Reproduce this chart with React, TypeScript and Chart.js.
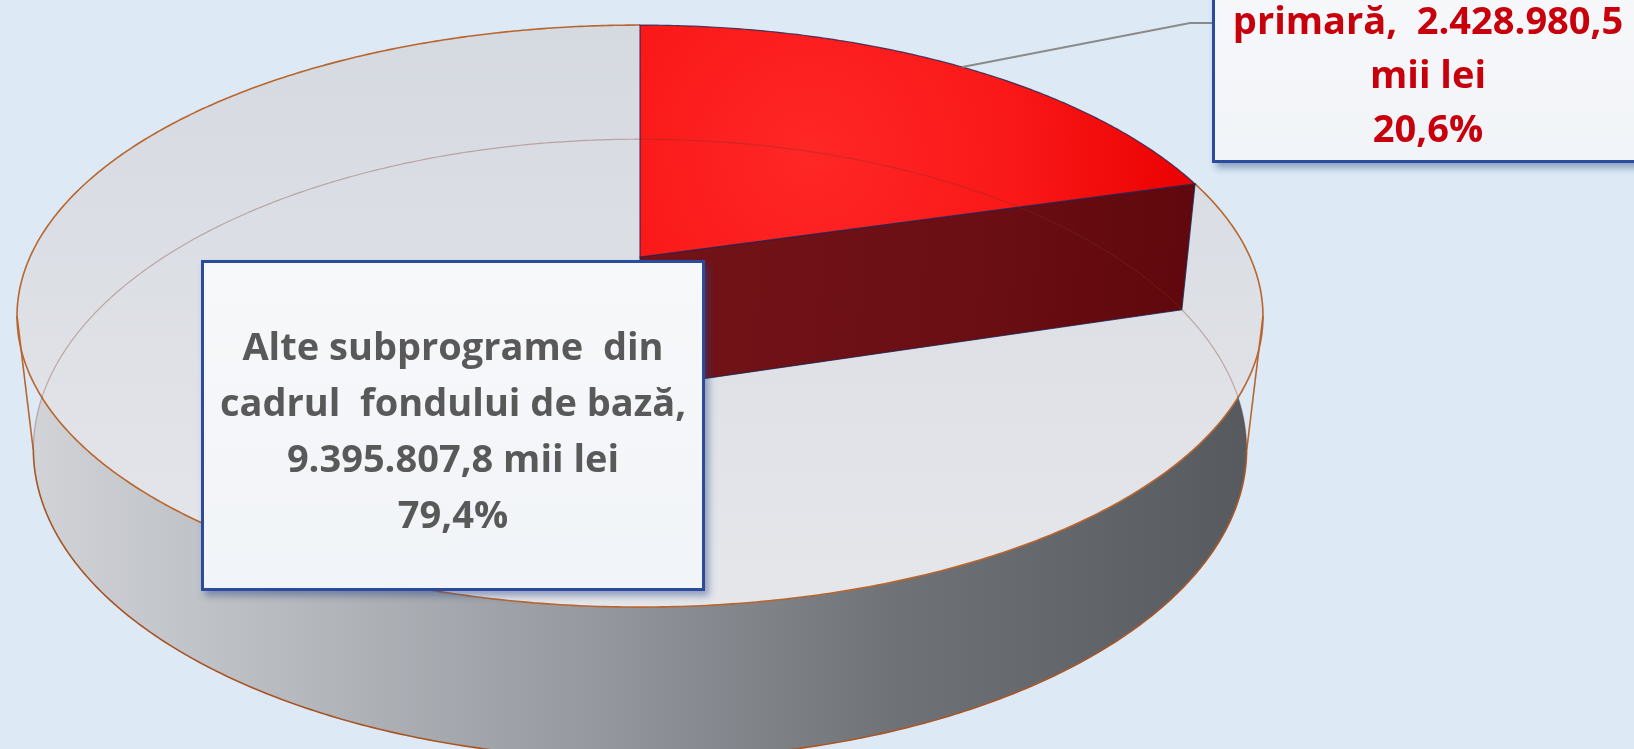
import React, { useEffect, useRef } from "react";
import { Chart, registerables } from "chart.js";

Chart.register(...registerables);

// ---- data ----
const categories = ["Educație primară", "Alte subprograme din cadrul fondului de bază"];
const values = [2428980.5, 9395807.8];
const percentLabels = ["20,6%", "79,4%"];
const amountLabels = ["2.428.980,5", "9.395.807,8 mii lei"];
const sliceColors = ["#f00000", "#dcdfe5"];
const labelLinesPrimary = ["primară,  " + amountLabels[0], "mii lei", percentLabels[0]];
const labelLinesOther = ["Alte subprograme  din", "cadrul  fondului de bază,", amountLabels[1], percentLabels[1]];

// ---- 3D perspective parameters (styling) ----
const K = 0.203; // perspective strength
const SIN = 0.4574; // sin of elevation
const COS = 0.8893;
const RD = K / COS;
const H = 0.2475; // thickness relative to radius
const AX = 610 / 257; // screen radius scale

function makeProj(cx: number, cy: number, A: number) {
  return (t: number, r: number, z: number): [number, number] => {
    const u = r * Math.sin(t);
    const v = r * Math.cos(t);
    const dn = 1 + K * v - z * RD * SIN;
    return [cx + (A * u) / dn, cy - (A * (v * SIN + z * COS)) / dn];
  };
}

function arcPts(P: any, t0: number, t1: number, z: number) {
  const N = Math.max(2, Math.ceil(Math.abs(t1 - t0) * 120));
  const pts: [number, number][] = [];
  for (let j = 0; j <= N; j++) pts.push(P(t0 + ((t1 - t0) * j) / N, 1, z));
  return pts;
}

function trace(ctx: CanvasRenderingContext2D, pts: [number, number][], move = true) {
  pts.forEach((p, i) => {
    if (i === 0 && move) ctx.moveTo(p[0], p[1]);
    else ctx.lineTo(p[0], p[1]);
  });
}

const pie3d = {
  id: "pie3d",
  beforeDatasetsDraw(chart: any) {
    const ctx: CanvasRenderingContext2D = chart.ctx;
    const arcs = chart.getDatasetMeta(0).data as any[];
    if (!arcs.length) return false;
    const cx = arcs[0].x;
    const cy = arcs[0].y;
    const A = arcs[0].outerRadius * AX;
    const P = makeProj(cx, cy, A);
    const sl = arcs.map((a) => ({ t0: a.startAngle + Math.PI / 2, t1: a.endAngle + Math.PI / 2 }));
    const red = sl[0];
    const gray = sl[1];
    ctx.save();

    // side band of the large slice
    const sideGrad = ctx.createLinearGradient(cx - A * 1.03, 0, cx + A * 1.03, 0);
    sideGrad.addColorStop(0, "#d3d5d9");
    sideGrad.addColorStop(0.2, "#b9bcc1");
    sideGrad.addColorStop(0.45, "#979aa0");
    sideGrad.addColorStop(0.7, "#6f7277");
    sideGrad.addColorStop(1, "#55585d");
    ctx.beginPath();
    trace(ctx, arcPts(P, gray.t0, gray.t1, 0));
    trace(ctx, arcPts(P, gray.t1, gray.t0, -H), false);
    ctx.closePath();
    ctx.fillStyle = sideGrad;
    ctx.fill();

    // top face of the large slice
    const topGrad = ctx.createLinearGradient(0, cy - A * 0.4, 0, cy + A * 0.6);
    topGrad.addColorStop(0, "#d5d9e0");
    topGrad.addColorStop(1, "#e6e7eb");
    ctx.beginPath();
    const c0 = P(0, 0, 0);
    ctx.moveTo(c0[0], c0[1]);
    trace(ctx, arcPts(P, gray.t0, gray.t1, 0), false);
    ctx.closePath();
    ctx.fillStyle = topGrad;
    ctx.fill();

    // brown outlines
    ctx.strokeStyle = "#b8662e";
    ctx.lineWidth = 1.6;
    ctx.beginPath();
    trace(ctx, arcPts(P, gray.t0, gray.t1, 0));
    ctx.stroke();
    const ts1 = Math.acos(-K);
    const ts2 = 2 * Math.PI - ts1;
    ctx.beginPath();
    trace(ctx, arcPts(P, Math.max(ts1, gray.t0), ts2, -H));
    ctx.stroke();
    [ts1, ts2].forEach((ts) => {
      const a = P(ts, 1, 0);
      const b = P(ts, 1, -H);
      ctx.beginPath();
      ctx.moveTo(a[0], a[1]);
      ctx.lineTo(b[0], b[1]);
      ctx.stroke();
    });

    // highlighted slice: radial face + top
    const f0 = P(red.t1, 0, 0);
    const f1 = P(red.t1, 1, 0);
    const f2 = P(red.t1, 1, -H);
    const f3 = P(red.t1, 0, -H);
    const faceGrad = ctx.createLinearGradient(f0[0], f0[1], f2[0], f2[1]);
    faceGrad.addColorStop(0, "#731318");
    faceGrad.addColorStop(0.6, "#6b0f14");
    faceGrad.addColorStop(1, "#60080d");
    ctx.beginPath();
    ctx.moveTo(f0[0], f0[1]);
    ctx.lineTo(f1[0], f1[1]);
    ctx.lineTo(f2[0], f2[1]);
    ctx.lineTo(f3[0], f3[1]);
    ctx.closePath();
    ctx.fillStyle = faceGrad;
    ctx.fill();
    ctx.strokeStyle = "rgba(30,35,80,0.8)";
    ctx.lineWidth = 1.2;
    ctx.stroke();

    const mid = P((red.t0 + red.t1) / 2, 0.5, 0);
    const rg = ctx.createRadialGradient(mid[0], mid[1], 10, mid[0], mid[1], A * 0.6);
    rg.addColorStop(0, "#ff2626");
    rg.addColorStop(0.55, "#fa1818");
    rg.addColorStop(1, "#ec0303");
    ctx.beginPath();
    ctx.moveTo(c0[0], c0[1]);
    trace(ctx, arcPts(P, red.t0, red.t1, 0), false);
    ctx.closePath();
    ctx.fillStyle = rg;
    ctx.fill();
    ctx.strokeStyle = "rgba(30,35,80,0.8)";
    ctx.lineWidth = 1.2;
    ctx.stroke();

    // faint see-through bottom edge
    ctx.beginPath();
    trace(ctx, arcPts(P, 0, Math.PI * 2, -H));
    ctx.strokeStyle = "rgba(120,50,35,0.33)";
    ctx.lineWidth = 1.2;
    ctx.stroke();

    // leader line from highlighted slice to its label
    const lp = P((red.t0 + red.t1) / 2 + 0.015, 1, 0);
    ctx.beginPath();
    ctx.moveTo(lp[0], lp[1]);
    ctx.lineTo(1190, 23);
    ctx.lineTo(1212, 23);
    ctx.strokeStyle = "#8a8a8a";
    ctx.lineWidth = 2;
    ctx.stroke();

    ctx.restore();
    return false;
  },
};

const boxBase: React.CSSProperties = {
  position: "absolute",
  boxSizing: "border-box",
  border: "3px solid #2b4c9c",
  background: "linear-gradient(180deg, #f7f8fa 0%, #f1f4f8 100%)",
  boxShadow: "4px 5px 7px rgba(40,70,130,0.45)",
  fontFamily: "'Open Sans', 'Noto Sans', sans-serif",
  fontWeight: 700,
  fontSize: 38,
  textAlign: "center",
  whiteSpace: "pre",
};

export default function App() {
  const ref = useRef<HTMLCanvasElement>(null);
  useEffect(() => {
    if (!ref.current) return;
    const chart = new Chart(ref.current, {
      type: "pie",
      data: {
        labels: categories,
        datasets: [{ data: values, backgroundColor: sliceColors, borderWidth: 0 }],
      },
      options: {
        responsive: false,
        animation: false,
        layout: { padding: { left: 0, top: 0, right: 354, bottom: 235 } },
        plugins: { legend: { display: false }, tooltip: { enabled: false } },
      },
      plugins: [pie3d as any],
    });
    return () => chart.destroy();
  }, []);

  return (
    <div
      style={{
        position: "fixed",
        left: 0,
        top: 0,
        width: 1634,
        height: 749,
        overflow: "hidden",
        background: "#ddeaf6",
      }}
    >
      <canvas ref={ref} width={1634} height={749} style={{ display: "block" }} />
      <div
        style={{
          ...boxBase,
          left: 201,
          top: 260,
          width: 504,
          height: 331,
          color: "#595959",
          lineHeight: "56px",
          paddingTop: 54,
        }}
      >
        {labelLinesOther.map((l, i) => (
          <div key={i}>{l}</div>
        ))}
      </div>
      <div
        style={{
          ...boxBase,
          left: 1212,
          bottom: 749 - 163,
          width: 432,
          color: "#c8000c",
          lineHeight: "54px",
          paddingBottom: 6,
          paddingTop: 20,
        }}
      >
        {labelLinesPrimary.map((l, i) => (
          <div key={i}>{l}</div>
        ))}
      </div>
    </div>
  );
}
